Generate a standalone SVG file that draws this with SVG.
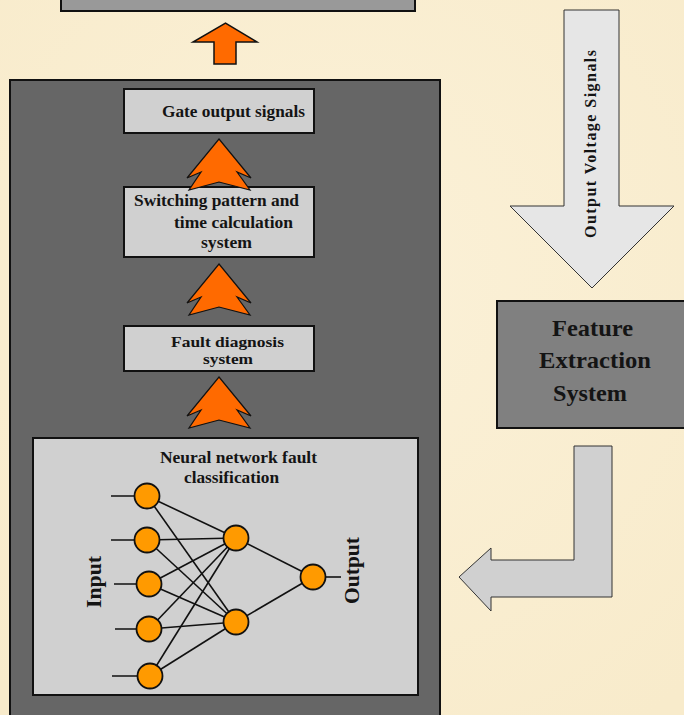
<svg xmlns="http://www.w3.org/2000/svg" width="684" height="715" viewBox="0 0 684 715">
<style>
.t{font-family:"Liberation Serif","Times New Roman",serif;font-weight:bold;fill:#141414}
.box{fill:#d0d0d0;stroke:#111;stroke-width:2}
.star{fill:#ff6a00;stroke:#111;stroke-width:1.2;stroke-linejoin:miter}
.n{fill:#ff9a00;stroke:#111;stroke-width:1.8}
.ln{stroke:#111;stroke-width:1.6;fill:none}
</style>
<defs>
<path id="jag" d="M0,0 L32,39 L18,33 L31,51 L0,43 L-30,51 L-18,33 L-32,39 Z"/>
<radialGradient id="bg" cx="50%" cy="40%" r="75%">
<stop offset="0" stop-color="#fbf1d8"/>
<stop offset="1" stop-color="#f8ebcb"/>
</radialGradient>
</defs>
<rect width="684" height="715" fill="url(#bg)"/>

<g id="top-box">
<rect x="61" y="-10" width="354" height="21" fill="#999999" stroke="#111" stroke-width="2"/>
</g>

<g id="controller-panel">
<rect x="10" y="80" width="430" height="645" fill="#666666" stroke="#111" stroke-width="2"/>
</g>

<g id="gate-output">
<rect class="box" x="124" y="89" width="190" height="44"/>
<text class="t" x="233.5" y="117" font-size="17" text-anchor="middle" textLength="143" lengthAdjust="spacingAndGlyphs">Gate output signals</text>
</g>

<g id="switching">
<rect class="box" x="124" y="187" width="190" height="70"/>
<text class="t" x="216.5" y="206" font-size="17" text-anchor="middle" textLength="165" lengthAdjust="spacingAndGlyphs">Switching pattern and</text>
<text class="t" x="233.5" y="228" font-size="17" text-anchor="middle" textLength="119" lengthAdjust="spacingAndGlyphs">time calculation</text>
<text class="t" x="226.5" y="248" font-size="17" text-anchor="middle" textLength="51" lengthAdjust="spacingAndGlyphs">system</text>
</g>

<g id="fault-diagnosis">
<rect class="box" x="124" y="326" width="190" height="45"/>
<text class="t" x="227.5" y="347" font-size="15.5" text-anchor="middle" textLength="113" lengthAdjust="spacingAndGlyphs">Fault diagnosis</text>
<text class="t" x="228" y="364" font-size="15.5" text-anchor="middle" textLength="50" lengthAdjust="spacingAndGlyphs">system</text>
</g>

<g id="neural-network">
<rect class="box" x="33" y="438" width="385" height="257"/>
<text class="t" x="238.5" y="463" font-size="17" text-anchor="middle" textLength="157" lengthAdjust="spacingAndGlyphs">Neural network fault</text>
<text class="t" x="231.5" y="483" font-size="17" text-anchor="middle" textLength="95" lengthAdjust="spacingAndGlyphs">classification</text>
<g class="ln">
<line x1="111" y1="496" x2="147" y2="496"/>
<line x1="111" y1="540" x2="147" y2="540"/>
<line x1="114" y1="584" x2="149" y2="584"/>
<line x1="115" y1="629" x2="149" y2="629"/>
<line x1="112" y1="676" x2="150" y2="676"/>
<line x1="147" y1="496" x2="236" y2="538"/><line x1="147" y1="496" x2="236" y2="622"/>
<line x1="147" y1="540" x2="236" y2="538"/><line x1="147" y1="540" x2="236" y2="622"/>
<line x1="149" y1="584" x2="236" y2="538"/><line x1="149" y1="584" x2="236" y2="622"/>
<line x1="149" y1="629" x2="236" y2="538"/><line x1="149" y1="629" x2="236" y2="622"/>
<line x1="150" y1="676" x2="236" y2="538"/><line x1="150" y1="676" x2="236" y2="622"/>
<line x1="236" y1="538" x2="313" y2="577"/><line x1="236" y1="622" x2="313" y2="577"/>
<line x1="313" y1="577" x2="341" y2="577"/>
</g>
<circle class="n" cx="147" cy="496" r="12.5"/>
<circle class="n" cx="147" cy="540" r="12.5"/>
<circle class="n" cx="149" cy="584" r="12.5"/>
<circle class="n" cx="149" cy="629" r="12.5"/>
<circle class="n" cx="150" cy="676" r="12.5"/>
<circle class="n" cx="236" cy="538" r="12.5"/>
<circle class="n" cx="236" cy="622" r="12.5"/>
<circle class="n" cx="313" cy="577" r="12.5"/>
<text class="t" font-size="20" text-anchor="middle" transform="translate(101,582) rotate(-90)" textLength="52" lengthAdjust="spacingAndGlyphs">Input</text>
<text class="t" font-size="20" text-anchor="middle" transform="translate(359,570.5) rotate(-90)" textLength="67" lengthAdjust="spacingAndGlyphs">Output</text>
</g>

<g id="feature-extraction">
<rect x="497" y="301" width="200" height="127" fill="#808080" stroke="#111" stroke-width="2"/>
<text class="t" x="592.5" y="336" font-size="24" text-anchor="middle" textLength="81" lengthAdjust="spacingAndGlyphs">Feature</text>
<text class="t" x="595" y="368" font-size="24" text-anchor="middle" textLength="112" lengthAdjust="spacingAndGlyphs">Extraction</text>
<text class="t" x="590" y="401" font-size="24" text-anchor="middle" textLength="74" lengthAdjust="spacingAndGlyphs">System</text>
</g>

<g id="connectors">
<path d="M214,64 L214,42 L193,42 L225.5,23 L257,42 L236,42 L236,64 Z" fill="#ff6a00" stroke="#111" stroke-width="1.5"/>
<use href="#jag" class="star" x="219" y="139"/>
<use href="#jag" class="star" x="219" y="264"/>
<use href="#jag" class="star" x="219" y="377"/>
<path d="M564,10 L619,10 L619,206 L674,206 L592,288 L510,206 L564,206 Z" fill="#e6e6e6" stroke="#333" stroke-width="1"/>
<text class="t" font-size="16" text-anchor="middle" transform="translate(596,144) rotate(-90)" textLength="188" lengthAdjust="spacing">Output Voltage Signals</text>
<path d="M574,446 L612,446 L612,597 L491,597 L491,611 L459,577 L491,548 L491,560 L574,560 Z" fill="#d0d0d0" stroke="#333" stroke-width="1"/>
</g>
</svg>
